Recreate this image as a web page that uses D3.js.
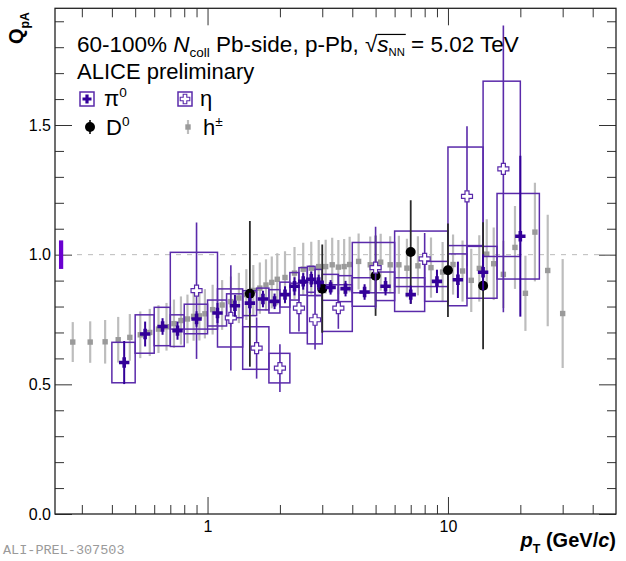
<!DOCTYPE html>
<html>
<head>
<meta charset="utf-8">
<script src="https://cdn.jsdelivr.net/npm/d3@7"></script>
<style>
  body { margin: 0; background: #fff; }
  svg { display: block; font-family: "Liberation Sans", Arial, sans-serif; }
  text { white-space: pre; }
</style>
</head>
<body>
<svg id="chart" width="626" height="561"></svg>
<script>
// charged hadrons
var hPt = [0.275, 0.325, 0.375, 0.425, 0.475, 0.525, 0.575, 0.625, 0.675, 0.725, 0.775, 0.825, 0.875, 0.925, 0.975,
  1.05, 1.15, 1.25, 1.35, 1.45, 1.55, 1.65, 1.75, 1.85, 1.95, 2.1, 2.3, 2.5, 2.7, 2.9, 3.1, 3.3, 3.5, 3.7, 3.9,
  4.25, 4.75, 5.25, 5.75, 6.25, 6.75, 7.5, 8.5, 9.5, 10.5, 11.5, 12.5, 13.5, 14.5, 15.5, 17, 19, 21, 23, 26, 30];
var hQ = [0.663, 0.663, 0.664, 0.672, 0.681, 0.691, 0.700, 0.713, 0.722, 0.734, 0.746, 0.752, 0.762, 0.764, 0.772,
  0.788, 0.806, 0.819, 0.833, 0.846, 0.862, 0.871, 0.883, 0.893, 0.905, 0.912, 0.929, 0.944, 0.948, 0.954, 0.954, 0.961, 0.952, 0.954, 0.962,
  0.974, 0.961, 0.971, 0.961, 0.961, 0.948, 0.957, 0.950, 0.933, 0.962, 0.937, 0.901, 0.947, 1.002, 0.965, 0.924, 1.028, 0.851, 1.087, 0.939, 0.773];
var hErr = [0.077, 0.080, 0.084, 0.088, 0.090, 0.090, 0.091, 0.092, 0.092, 0.093, 0.093, 0.094, 0.094, 0.095, 0.095,
  0.096, 0.096, 0.097, 0.097, 0.098, 0.098, 0.099, 0.099, 0.100, 0.100, 0.101, 0.101, 0.102, 0.102, 0.103, 0.104, 0.104, 0.105, 0.106, 0.107,
  0.108, 0.109, 0.110, 0.110, 0.112, 0.113, 0.114, 0.116, 0.116, 0.116, 0.118, 0.122, 0.128, 0.135, 0.140, 0.130, 0.160, 0.145, 0.190, 0.215, 0.210];

// neutral pions
var pi0Pt = [0.45, 0.55, 0.65, 0.75, 0.9, 1.1, 1.3, 1.5, 1.7, 1.9, 2.1, 2.3, 2.5, 2.7, 2.9, 3.25, 3.75, 4.5, 5.5, 7, 9, 11, 14, 20];
var pi0Lo = [0.4, 0.5, 0.6, 0.7, 0.8, 1.0, 1.2, 1.4, 1.6, 1.8, 2.0, 2.2, 2.4, 2.6, 2.8, 3.0, 3.5, 4, 5, 6, 8, 10, 12, 16];
var pi0Hi = [0.5, 0.6, 0.7, 0.8, 1.0, 1.2, 1.4, 1.6, 1.8, 2.0, 2.2, 2.4, 2.6, 2.8, 3.0, 3.5, 4, 5, 6, 8, 10, 12, 16, 24];
var pi0Q = [0.584, 0.694, 0.723, 0.707, 0.752, 0.775, 0.803, 0.813, 0.829, 0.820, 0.846, 0.878, 0.897, 0.905, 0.893, 0.874, 0.869, 0.856, 0.878, 0.846, 0.897, 0.903, 0.932, 1.071];
var pi0Stat = [0.083, 0.048, 0.032, 0.035, 0.030, 0.039, 0.042, 0.040, 0.032, 0.030, 0.032, 0.035, 0.032, 0.030, 0.030, 0.028, 0.030, 0.030, 0.035, 0.035, 0.045, 0.070, 0.070, 0.310];
var pi0Sys = [0.078, 0.074, 0.074, 0.061, 0.057, 0.050, 0.046, 0.048, 0.042, 0.045, 0.048, 0.053, 0.053, 0.050, 0.050, 0.050, 0.050, 0.055, 0.055, 0.065, 0.077, 0.100, 0.100, 0.165];

// eta mesons
var etaPt = [0.9, 1.25, 1.6, 2.0, 2.4, 2.8, 3.5, 5, 8, 12, 17];
var etaLo = [0.7, 1.1, 1.4, 1.8, 2.2, 2.6, 3, 4, 6, 10, 14];
var etaHi = [1.1, 1.4, 1.8, 2.2, 2.6, 3, 4, 6, 10, 14, 20];
var etaQ = [0.861, 0.756, 0.640, 0.5625, 0.794, 0.749, 0.794, 0.950, 0.984, 1.225, 1.331];
var etaStat = [0.263, 0.203, 0.118, 0.092, 0.090, 0.115, 0.080, 0.158, 0.100, 0.270, 0.553];
var etaSys = [0.148, 0.112, 0.082, 0.057, 0.096, 0.093, 0.090, 0.097, 0.107, 0.190, 0.338];

// D0 mesons
var d0Pt = [1.5, 3, 5, 7, 10, 14];
var d0Q = [0.849, 0.869, 0.919, 1.010, 0.940, 0.880];
var d0Err = [0.281, 0.170, 0.155, 0.200, 0.180, 0.245];

// normalisation uncertainty at unity
var normLo = [0.241], normHi = [0.251], normQ = [1], normErr = [0.055];

var majX = [1, 10];
var minX = [0.3, 0.4, 0.5, 0.6, 0.7, 0.8, 0.9, 2, 3, 4, 5, 6, 7, 8, 9, 20, 30, 40];
var majY = [0, 0.5, 1, 1.5];
var minY = [0.1, 0.2, 0.3, 0.4, 0.6, 0.7, 0.8, 0.9, 1.1, 1.2, 1.3, 1.4, 1.6, 1.7, 1.8, 1.9];

var PI_COL = '#330099', BOX_COL = '#5a2aaa', ETA_COL = '#5a2aaa', H_COL = '#9a9a9a', H_BAR = '#bdbdbd';

var m = {l: 55, r: 616, t: 8.3, b: 514};
var x = d3.scaleLog().domain([0.232, 50]).range([m.l, m.r]);
var y = d3.scaleLinear().domain([0, 1.95]).range([m.b, m.t]);

var svg = d3.select('#chart');

svg.append('defs').append('clipPath').attr('id', 'clip')
  .append('rect').attr('x', m.l).attr('y', m.t).attr('width', m.r - m.l).attr('height', m.b - m.t);

// axes
function styleAxis(g) {
  g.select('.domain').remove();
  g.selectAll('.tick line').attr('stroke', '#333').attr('stroke-width', 1);
  g.selectAll('.tick text').attr('fill', '#000').style('font-size', '16px').style('font-family', '"Liberation Sans", Arial, sans-serif');
}
svg.append('g').attr('transform', 'translate(0,' + m.b + ')')
  .call(d3.axisBottom(x).tickValues(minX).tickSize(-9).tickFormat('')).call(styleAxis);
svg.append('g').attr('transform', 'translate(0,' + m.b + ')')
  .call(d3.axisBottom(x).tickValues(majX).tickSize(-17).tickPadding(7).tickFormat(d3.format('d'))).call(styleAxis);
svg.append('g').attr('transform', 'translate(0,' + m.t + ')')
  .call(d3.axisTop(x).tickValues(minX).tickSize(-9).tickFormat('')).call(styleAxis);
svg.append('g').attr('transform', 'translate(0,' + m.t + ')')
  .call(d3.axisTop(x).tickValues(majX).tickSize(-17).tickFormat('')).call(styleAxis);
svg.append('g').attr('transform', 'translate(' + m.l + ',0)')
  .call(d3.axisLeft(y).tickValues(minY).tickSize(-9).tickFormat('')).call(styleAxis);
svg.append('g').attr('transform', 'translate(' + m.l + ',0)')
  .call(d3.axisLeft(y).tickValues(majY).tickSize(-17).tickPadding(4).tickFormat(d3.format('.1f'))).call(styleAxis);
svg.append('g').attr('transform', 'translate(' + m.r + ',0)')
  .call(d3.axisRight(y).tickValues(minY).tickSize(-9).tickFormat('')).call(styleAxis);
svg.append('g').attr('transform', 'translate(' + m.r + ',0)')
  .call(d3.axisRight(y).tickValues(majY).tickSize(-17).tickFormat('')).call(styleAxis);

var plot = svg.append('g').attr('clip-path', 'url(#clip)');

// unity line
plot.append('line').attr('x1', m.l).attr('x2', m.r).attr('y1', y(1)).attr('y2', y(1))
  .attr('stroke', '#bbb').attr('stroke-width', 1).attr('stroke-dasharray', '5,6');

// normalisation box
plot.selectAll('.norm').data(normQ).enter().append('rect')
  .attr('x', function(d, i) { return x(normLo[i]); })
  .attr('width', function(d, i) { return x(normHi[i]) - x(normLo[i]); })
  .attr('y', function(d, i) { return y(d + normErr[i]); })
  .attr('height', function(d, i) { return y(d - normErr[i]) - y(d + normErr[i]); })
  .attr('fill', '#6a00d0');

// h+-
plot.selectAll('.hbar').data(hQ).enter().append('line')
  .attr('x1', function(d, i) { return x(hPt[i]); }).attr('x2', function(d, i) { return x(hPt[i]); })
  .attr('y1', function(d, i) { return y(d - hErr[i]); }).attr('y2', function(d, i) { return y(d + hErr[i]); })
  .attr('stroke', H_BAR).attr('stroke-width', 2.2);
plot.selectAll('.hpt').data(hQ).enter().append('rect')
  .attr('x', function(d, i) { return x(hPt[i]) - 2.7; }).attr('y', function(d) { return y(d) - 2.7; })
  .attr('width', 5.4).attr('height', 5.4).attr('fill', H_COL);

// systematic boxes
function boxes(q, lo, hi, sys, col) {
  plot.append('g').selectAll('rect').data(q).enter().append('rect')
    .attr('x', function(d, i) { return x(lo[i]); })
    .attr('width', function(d, i) { return x(hi[i]) - x(lo[i]); })
    .attr('y', function(d, i) { return y(d + sys[i]); })
    .attr('height', function(d, i) { return y(d - sys[i]) - y(d + sys[i]); })
    .attr('fill', 'none').attr('stroke', col).attr('stroke-width', 1.5);
}
boxes(pi0Q, pi0Lo, pi0Hi, pi0Sys, BOX_COL);
boxes(etaQ, etaLo, etaHi, etaSys, BOX_COL);

function bars(pt, q, err, col, w) {
  plot.append('g').selectAll('line').data(q).enter().append('line')
    .attr('x1', function(d, i) { return x(pt[i]); }).attr('x2', function(d, i) { return x(pt[i]); })
    .attr('y1', function(d, i) { return y(d - err[i]); }).attr('y2', function(d, i) { return y(d + err[i]); })
    .attr('stroke', col).attr('stroke-width', w);
}

function crossPath(L, w) {
  return 'M' + (-w) + ',' + (-L) + 'H' + w + 'V' + (-w) + 'H' + L + 'V' + w + 'H' + w + 'V' + L +
    'H' + (-w) + 'V' + w + 'H' + (-L) + 'V' + (-w) + 'H' + (-w) + 'Z';
}

// D0
bars(d0Pt, d0Q, d0Err, '#2a2a2a', 1.8);
plot.append('g').selectAll('circle').data(d0Q).enter().append('circle')
  .attr('cx', function(d, i) { return x(d0Pt[i]); }).attr('cy', function(d) { return y(d); })
  .attr('r', 5).attr('fill', '#000');

// eta
bars(etaPt, etaQ, etaStat, ETA_COL, 1.6);
plot.append('g').selectAll('path').data(etaQ).enter().append('path')
  .attr('d', crossPath(5.5, 2))
  .attr('transform', function(d, i) { return 'translate(' + x(etaPt[i]) + ',' + y(d) + ')'; })
  .attr('fill', '#fff').attr('stroke', ETA_COL).attr('stroke-width', 1.2);

// pi0
bars(pi0Pt, pi0Q, pi0Stat, PI_COL, 2);
plot.append('g').selectAll('path').data(pi0Q).enter().append('path')
  .attr('d', crossPath(5.2, 1.8))
  .attr('transform', function(d, i) { return 'translate(' + x(pi0Pt[i]) + ',' + y(d) + ')'; })
  .attr('fill', PI_COL);

// frame
svg.append('rect').attr('x', m.l).attr('y', m.t).attr('width', m.r - m.l).attr('height', m.b - m.t)
  .attr('fill', 'none').attr('stroke', '#222').attr('stroke-width', 1.3);

// text made of pieces (sub/superscripts)
function rich(g, x0, y0, parts, size) {
  var cx = x0;
  parts.forEach(function(p) {
    var t = g.append('text').attr('x', cx).attr('y', y0 + (p.dy || 0) * size)
      .attr('xml:space', 'preserve')
      .style('font-size', (size * (p.s || 1)) + 'px').text(p.t);
    if (p.i) t.style('font-style', 'italic');
    if (p.b) t.style('font-weight', 'bold');
    p.x = cx;
    p.w = t.node().getComputedTextLength();
    cx += p.w;
  });
  return cx - x0;
}

var title = [{t: '60-100% '}, {t: 'N', i: 1}, {t: 'coll', s: 0.6, dy: 0.2}, {t: ' Pb-side, p-Pb, '},
  {t: '\u221A'}, {t: 's', i: 1}, {t: 'NN', s: 0.5, dy: 0.18}, {t: ' = 5.02 TeV'}];
var tg = svg.append('g');
rich(tg, 77, 52, title, 22.5);
tg.append('line').attr('x1', title[5].x).attr('x2', title[6].x + title[6].w + 1)
  .attr('y1', 52 - 0.78 * 22.5).attr('y2', 52 - 0.78 * 22.5).attr('stroke', '#000').attr('stroke-width', 1.2);
rich(svg.append('g'), 77, 79, [{t: 'ALICE preliminary'}], 22);

// legend
var lg = svg.append('g');
lg.append('rect').attr('x', 80).attr('y', 92).attr('width', 14).attr('height', 14)
  .attr('fill', 'none').attr('stroke', BOX_COL).attr('stroke-width', 1.5);
lg.append('path').attr('d', crossPath(4.5, 1.6)).attr('transform', 'translate(87,99)').attr('fill', PI_COL);
rich(lg, 104, 106, [{t: '\u03C0'}, {t: '0', s: 0.62, dy: -0.42}], 22);
lg.append('rect').attr('x', 178).attr('y', 92).attr('width', 14).attr('height', 14)
  .attr('fill', 'none').attr('stroke', BOX_COL).attr('stroke-width', 1.5);
lg.append('path').attr('d', crossPath(4.8, 1.8)).attr('transform', 'translate(185,99)')
  .attr('fill', '#fff').attr('stroke', ETA_COL).attr('stroke-width', 1.1);
rich(lg, 200, 106, [{t: '\u03B7'}], 22);
lg.append('line').attr('x1', 90).attr('x2', 90).attr('y1', 120).attr('y2', 134).attr('stroke', '#2a2a2a').attr('stroke-width', 1.8);
lg.append('circle').attr('cx', 90).attr('cy', 127).attr('r', 5).attr('fill', '#000');
rich(lg, 106, 135, [{t: 'D'}, {t: '0', s: 0.62, dy: -0.42}], 22);
lg.append('line').attr('x1', 188).attr('x2', 188).attr('y1', 120).attr('y2', 134).attr('stroke', H_BAR).attr('stroke-width', 2.2);
lg.append('rect').attr('x', 185.3).attr('y', 124.3).attr('width', 5.4).attr('height', 5.4).attr('fill', H_COL);
rich(lg, 203, 135, [{t: 'h'}, {t: '\u00B1', s: 0.62, dy: -0.42}], 22);

// axis titles
var xt = svg.append('g');
var xparts = [{t: 'p', i: 1, b: 1}, {t: 'T', b: 1, s: 0.62, dy: 0.3}, {t: ' (GeV/', b: 1}, {t: 'c', i: 1, b: 1}, {t: ')', b: 1}];
var xw = rich(xt, 0, 547, xparts, 20);
xt.attr('transform', 'translate(' + (m.r - xw) + ',0)');

var yt = svg.append('g');
var yparts = [{t: 'Q', b: 1}, {t: 'pA', b: 1, s: 0.62, dy: 0.3}];
var yw = rich(yt, 0, 0, yparts, 20);
yt.attr('transform', 'translate(23,' + (12 + yw) + ') rotate(-90)');

svg.append('text').attr('x', 3).attr('y', 554)
  .style('font-family', '"Liberation Mono", "Courier New", monospace').style('font-size', '13.5px')
  .attr('fill', '#9a9a9a').text('ALI-PREL-307503');
</script>
</body>
</html>
